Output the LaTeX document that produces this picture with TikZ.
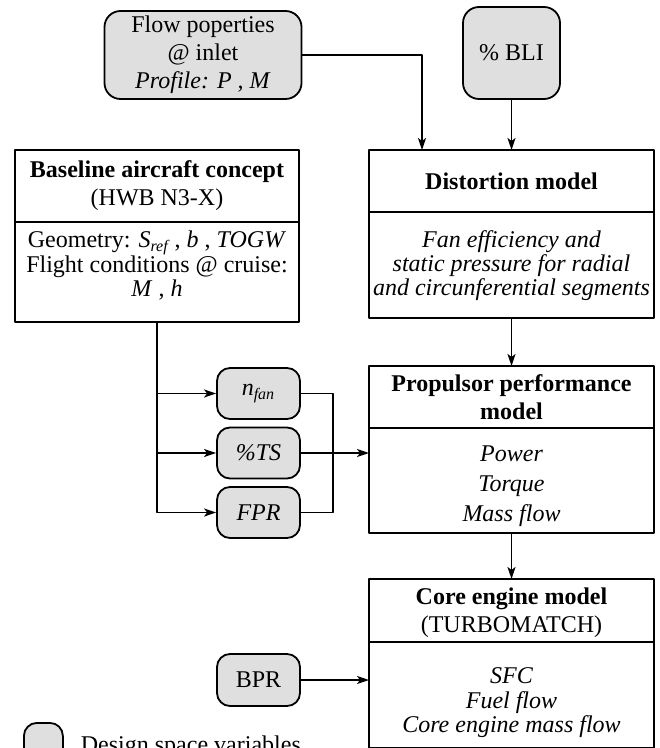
\documentclass[tikz,border=0pt]{standalone}
\usepackage{fontspec}
\setmainfont{Liberation Serif}
\usetikzlibrary{positioning,arrows.meta}
\tikzset{
  var/.style={draw, fill=gray!25, rounded corners=6.5pt, align=center, inner sep=1pt},
  head/.style={draw, align=center, inner sep=1pt, outer sep=0pt, minimum width=142.5pt},
  bodytext/.style={align=center, inner sep=0pt, outer sep=0pt},
}
\begin{document}
\begin{tikzpicture}[x=0.5pt, y=-0.5pt, line join=round, >={Stealth[length=6pt,width=4pt,inset=1.5pt]},
    line width=0.9pt, font=\fontsize{12}{14}\selectfont]
  \useasboundingbox (0,0) rectangle (659,748);
  % inputs on top
  \node[var, rounded corners=8pt, minimum width=98.5pt, minimum height=44pt] (flow) at (203,55)
    {Flow poperties\\@ inlet\\\textit{Profile: P , M}};
  \node[var, rounded corners=8pt, minimum width=48.5pt, minimum height=46pt] (bli) at (511.5,53) {\% BLI};
  % baseline aircraft
  \node[head, minimum width=142pt, minimum height=36pt] (bhead) at (157,186)
    {\textbf{Baseline aircraft concept}\\(HWB N3-X)};
  \node[head, minimum width=142pt, minimum height=50pt, below=0pt of bhead] (bbody) {};
  \node[bodytext, below=4.5pt of bhead, font=\fontsize{12}{12.5}\selectfont] (btext)
    {Geometry: \textit{S\textsubscript{ref}} , \textit{b} , \textit{TOGW}\\
     Flight conditions @ cruise:\\[-0.75pt]\textit{M} , \textit{h}};
  % distortion model
  \node[head, minimum height=31pt] (dhead) at (511.5,181) {\textbf{Distortion model}};
  \node[head, minimum height=53pt, below=0pt of dhead] (dbody) {};
  \node[bodytext, below=9.5pt of dhead, font=\fontsize{12}{12}\selectfont\itshape] (dtext)
    {Fan efficiency and\\static pressure for radial\\and circunferential segments};
  % propulsor model
  \node[head, minimum height=31pt] (phead) at (511.5,397) {\textbf{Propulsor performance}\\\textbf{model}};
  \node[head, minimum height=52.5pt, below=0pt of phead] (pbody) {};
  \node[bodytext, below=9pt of phead, font=\fontsize{12}{15}\selectfont\itshape] (ptext)
    {Power\\Torque\\Mass flow};
  % core engine model
  \node[head, minimum height=31.5pt] (chead) at (511.5,610.5)
    {\rule{0pt}{11pt}\textbf{Core engine model}\\(TURBOMATCH)};
  \node[head, minimum height=53pt, below=0pt of chead] (cbody) {};
  \node[bodytext, below=13pt of chead, font=\fontsize{12}{12.25}\selectfont\itshape] (ctext)
    {SFC\\Fuel flow\\Core engine mass flow};
  % design variables
  \node[var, minimum width=41.5pt, minimum height=25.5pt] (nfan) at (258.5,393.5) {\textit{n\textsubscript{fan}}};
  \node[var, minimum width=41.5pt, minimum height=25.5pt] (ts) at (258.5,453) {\textit{\%TS}};
  \node[var, minimum width=41.5pt, minimum height=25.5pt] (fpr) at (258.5,512.5) {\textit{FPR}};
  \node[var, minimum width=41.5pt, minimum height=26pt] (bpr) at (258.5,680) {BPR};
  % legend
  \node[var, minimum width=19.5pt, minimum height=20pt, anchor=north west] (key) at (23,722) {};
  \node[anchor=base west, inner sep=0pt] (keytext) at (80,752) {Design space variables};
  % connectors
  \coordinate (fdrop) at (422,150);
  \coordinate (join) at (333,453);
  \draw[->] (flow.east) -| (fdrop);
  \draw[->] (bli.south) -- (dhead.north);
  \draw[->] (dbody.south) -- (phead.north);
  \draw[->] (pbody.south) -- (chead.north);
  \draw[->] (bbody.south) |- (fpr.west);
  \draw[->] (bbody.south |- nfan.west) -- (nfan.west);
  \draw[->] (bbody.south |- ts.west) -- (ts.west);
  \draw (nfan.east) -| (join) |- (fpr.east);
  \draw (ts.east) -- (join);
  \draw[->] (join) -- (join -| pbody.west);
  \draw[->] (bpr.east) -- (bpr.east -| cbody.west);
\end{tikzpicture}
\end{document}
